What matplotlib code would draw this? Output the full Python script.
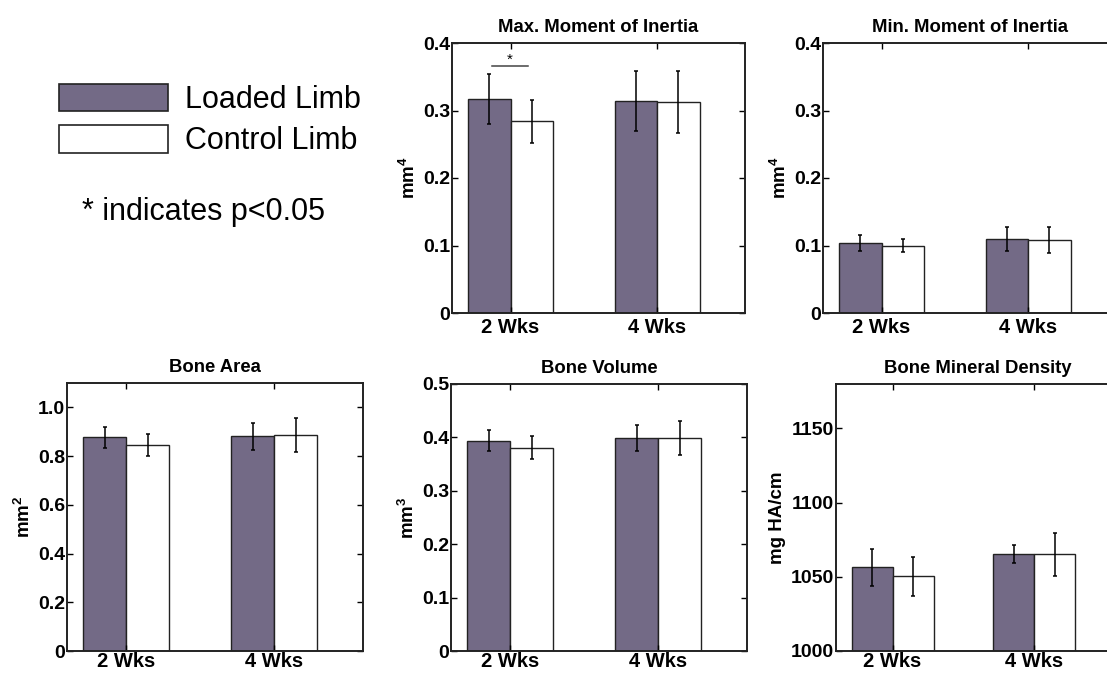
"""
Bone geometry / density bars: loaded vs control limb at 2 and 4 weeks.
"""

import matplotlib

matplotlib.use("Agg")
import matplotlib.pyplot as plt
import numpy as np
from matplotlib.patches import Patch

plt.rcParams["font.family"] = ["Liberation Sans", "DejaVu Sans"]
plt.rcParams["mathtext.fontset"] = "custom"
plt.rcParams["mathtext.rm"] = "Liberation Sans"
plt.rcParams["mathtext.bf"] = "Liberation Sans:bold"

# %%
# Data

groups = ["2 Wks", "4 Wks"]
series = ["Loaded Limb", "Control Limb"]

max_moi_loaded = [0.317, 0.314]
max_moi_loaded_err = [0.037, 0.044]
max_moi_control = [0.284, 0.313]
max_moi_control_err = [0.032, 0.046]

min_moi_loaded = [0.1035, 0.110]
min_moi_loaded_err = [0.012, 0.018]
min_moi_control = [0.0995, 0.108]
min_moi_control_err = [0.0095, 0.019]

area_loaded = [0.877, 0.881]
area_loaded_err = [0.043, 0.055]
area_control = [0.846, 0.885]
area_control_err = [0.045, 0.070]

volume_loaded = [0.394, 0.399]
volume_loaded_err = [0.019, 0.024]
volume_control = [0.381, 0.399]
volume_control_err = [0.022, 0.032]

bmd_loaded = [1056.5, 1065.6]
bmd_loaded_err = [12.5, 6.0]
bmd_control = [1050.4, 1065.1]
bmd_control_err = [13.0, 14.3]

moi_ticks = [0, 0.1, 0.2, 0.3, 0.4]
moi_ticklabels = ["0", "0.1", "0.2", "0.3", "0.4"]
area_ticks = [0, 0.2, 0.4, 0.6, 0.8, 1.0]
area_ticklabels = ["0", "0.2", "0.4", "0.6", "0.8", "1.0"]
volume_ticks = [0, 0.1, 0.2, 0.3, 0.4, 0.5]
volume_ticklabels = ["0", "0.1", "0.2", "0.3", "0.4", "0.5"]
bmd_ticks = [1000, 1050, 1100, 1150]
bmd_ticklabels = ["1000", "1050", "1100", "1150"]

# significance marker on max. moment of inertia, 2 Wks
sig_x = [0.87, 1.12]
sig_y = 0.366
sig_text = "*"
note_text = "* indicates p<0.05"

loaded_color = "#736a86"
control_color = "white"
edge_color = "#222222"

# %%
# Figure

fig = plt.figure(figsize=(11.07, 6.74), dpi=100)

W, H = 1107, 674


def px_axes(left, top, right, bottom):
    return fig.add_axes([left / W, 1 - bottom / H, (right - left) / W, (bottom - top) / H])


ax_max = px_axes(452, 43, 745, 313)
ax_min = px_axes(823, 43, 1116, 313)
ax_area = px_axes(67, 383, 363, 651)
ax_vol = px_axes(451, 384, 747, 651)
ax_bmd = px_axes(836, 384, 1119, 651)
bottom_row = [ax_area, ax_vol, ax_bmd]

panels = [
    (ax_max, "Max. Moment of Inertia", r"$\mathbf{mm^4}$",
     max_moi_loaded, max_moi_loaded_err, max_moi_control, max_moi_control_err,
     (0, 0.4), moi_ticks, moi_ticklabels),
    (ax_min, "Min. Moment of Inertia", r"$\mathbf{mm^4}$",
     min_moi_loaded, min_moi_loaded_err, min_moi_control, min_moi_control_err,
     (0, 0.4), moi_ticks, moi_ticklabels),
    (ax_area, "Bone Area", r"$\mathbf{mm^2}$",
     area_loaded, area_loaded_err, area_control, area_control_err,
     (0, 1.1), area_ticks, area_ticklabels),
    (ax_vol, "Bone Volume", r"$\mathbf{mm^3}$",
     volume_loaded, volume_loaded_err, volume_control, volume_control_err,
     (0, 0.5), volume_ticks, volume_ticklabels),
    (ax_bmd, "Bone Mineral Density", "mg HA/cm",
     bmd_loaded, bmd_loaded_err, bmd_control, bmd_control_err,
     (1000, 1180), bmd_ticks, bmd_ticklabels),
]

x = np.arange(1, len(groups) + 1)
width = 0.29
err_kw = dict(ecolor="black", elinewidth=1.1, capsize=1.5, capthick=1.1)

for ax, title, ylabel, ld, ld_err, ct, ct_err, ylim, yticks, yticklabels in panels:
    base = ylim[0]
    ax.bar(x - width / 2, np.array(ld) - base, width, bottom=base, yerr=ld_err,
           color=loaded_color, edgecolor=edge_color, linewidth=1.0, error_kw=err_kw)
    ax.bar(x + width / 2, np.array(ct) - base, width, bottom=base, yerr=ct_err,
           color=control_color, edgecolor=edge_color, linewidth=1.0, error_kw=err_kw)
    ax.set_xlim(0.6, 2.6)
    ax.set_ylim(*ylim)
    ax.set_xticks(x)
    ax.set_xticklabels(groups, fontsize=14.5, fontweight="bold")
    ax.set_yticks(yticks)
    ax.set_yticklabels(yticklabels, fontsize=14, fontweight="bold")
    ax.tick_params(direction="in", length=4, width=1, top=True, right=True, pad=1.5)
    ax.tick_params(axis="x", pad=1.0 if ax in bottom_row else 3.5)
    ax.set_title(title, fontsize=13.3, fontweight="bold", pad=8)
    ax.set_ylabel(ylabel, fontsize=13.5, fontweight="bold", labelpad=3)
    for s in ax.spines.values():
        s.set_linewidth(1.4)
        s.set_color("#222222")

# significance bar
ax_max.plot(sig_x, [sig_y, sig_y], color="#444444", lw=1.1)
ax_max.text(np.mean(sig_x), sig_y + 0.009, sig_text, ha="center", va="center", fontsize=11)

# legend + note
handles = [Patch(facecolor=loaded_color, edgecolor=edge_color, linewidth=1.2, label=series[0]),
           Patch(facecolor=control_color, edgecolor=edge_color, linewidth=1.2, label=series[1])]
fig.legend(handles=handles, loc="upper left", bbox_to_anchor=(59 / W, 1 - 84 / H),
           frameon=False, fontsize=22, handlelength=3.56, handleheight=1.0,
           labelspacing=0.33, handletextpad=0.55, borderpad=0, borderaxespad=0)
fig.text(82 / W, 1 - 212 / H, note_text, fontsize=22, va="center", ha="left")

fig.savefig("out.png", dpi=100)
